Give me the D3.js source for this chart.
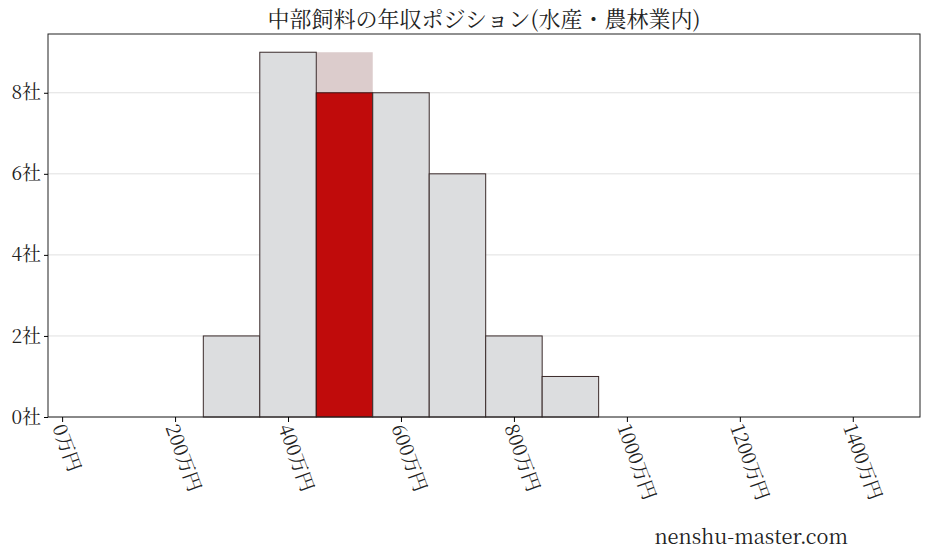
<!DOCTYPE html><html><head><meta charset="utf-8"><script src="https://cdn.jsdelivr.net/npm/d3@7"></script>
<style>body{margin:0;background:#fff}text{font-family:"Noto Serif CJK JP","Noto Sans CJK JP",serif}</style></head><body><svg width="928" height="557"></svg><script>
const binStarts=[250,350,450,550,650,750,850];
const counts=[2,9,8,8,6,2,1];
const highlightStart=450, highlightCount=8, highlightBg=9;
const xTicks=[0,200,400,600,800,1000,1200,1400];
const yTicks=[0,2,4,6,8];
const svg=d3.select("svg");
const L=48,R=920,T=34,B=417;
const x=d3.scaleLinear().domain([-25,1519]).range([L,R]);
const y=d3.scaleLinear().domain([0,9.45]).range([B,T]);
svg.append("text").attr("x",(L+R)/2).attr("y",27).attr("text-anchor","middle").attr("font-size",22).attr("fill","#222").text("中部飼料の年収ポジション(水産・農林業内)");
const g=svg.append("g");
yTicks.forEach(t=>{g.append("line").attr("x1",L).attr("x2",R).attr("y1",y(t)).attr("y2",y(t)).attr("stroke","#e0e0e0");});
g.append("rect").attr("x",x(highlightStart)).attr("width",x(highlightStart+100)-x(highlightStart)).attr("y",y(highlightBg)).attr("height",y(0)-y(highlightBg)).attr("fill","#dccccc");
binStarts.forEach((s,i)=>{const h=s===highlightStart;
g.append("rect").attr("x",x(s)).attr("width",x(s+100)-x(s)).attr("y",y(counts[i])).attr("height",y(0)-y(counts[i])).attr("fill",h?"#c00b0b":"#dcdddf").attr("stroke",h?"#3a1010":"#3a2a2a").attr("stroke-width",1);});
svg.append("rect").attr("x",L).attr("y",T).attr("width",R-L).attr("height",B-T).attr("fill","none").attr("stroke","#222");
const xa=svg.append("g").attr("transform",`translate(0,${B})`).call(d3.axisBottom(x).tickValues(xTicks).tickSize(5).tickFormat(d=>d+"万円"));
xa.select(".domain").remove();
xa.selectAll("text").attr("font-size",19).attr("fill","#222").attr("text-anchor","start").attr("dy","0.35em").attr("transform","translate(-4,8) rotate(70)").attr("x",0).attr("y",0);
const ya=svg.append("g").attr("transform",`translate(${L},0)`).call(d3.axisLeft(y).tickValues(yTicks).tickSize(4).tickFormat(d=>d+"社"));
ya.select(".domain").remove();
ya.selectAll("text").attr("font-size",19).attr("fill","#222");
svg.append("text").attr("x",848).attr("y",544).attr("text-anchor","end").attr("font-size",20).attr("fill","#222").text("nenshu-master.com");
</script></body></html>
